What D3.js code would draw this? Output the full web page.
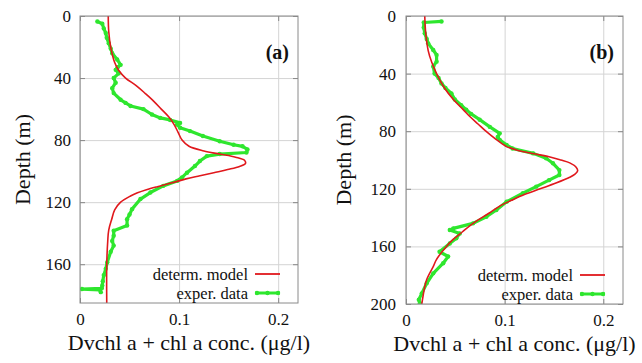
<!DOCTYPE html>
<html>
<head>
<meta charset="utf-8">
<script src="https://cdn.jsdelivr.net/npm/d3@7"></script>
<style>
  html, body { margin: 0; padding: 0; background: #fff; }
  svg text { font-family: "Liberation Serif", "Times New Roman", Times, "DejaVu Serif", serif !important; }
</style>
</head>
<body>
<div id="chart"></div>
<script>
// ---- data ----
// panel (a)
const depthModelA = [0, 10, 20, 30, 35, 40, 45, 50, 55, 60, 65, 70, 75, 80, 84, 87, 89, 91, 93, 95, 97, 99, 101, 103, 105, 107.5, 110, 112, 114, 116, 120, 125, 131, 138, 145, 160, 185];
const concModelA = [0.0285, 0.029, 0.031, 0.035, 0.039, 0.046, 0.057, 0.066, 0.0745, 0.082, 0.0895, 0.095, 0.099, 0.103, 0.110, 0.125, 0.141, 0.157, 0.166, 0.167, 0.161, 0.149, 0.135, 0.121, 0.107, 0.093, 0.078, 0.067, 0.058, 0.051, 0.041, 0.035, 0.032, 0.029, 0.028, 0.027, 0.027];
const depthExpA = [3.5, 5, 8, 11, 14, 17.5, 21, 24, 28, 31.5, 33, 34.7, 37, 40, 43, 46.5, 49.7, 54, 56, 58, 60, 63.5, 65.7, 67, 68.9, 70, 72, 74.2, 77.4, 80.7, 83, 84, 86, 88, 89, 90.3, 93.5, 96.7, 101, 104, 106.3, 109.5, 113.8, 118, 124.5, 128, 131, 135, 138.4, 141.6, 145, 148, 152, 158.7, 163, 167, 171, 173.7, 175.5, 176, 176.5, 178];
const concExpA = [0.0175, 0.0225, 0.024, 0.026, 0.027, 0.029, 0.031, 0.0325, 0.0375, 0.041, 0.038, 0.036, 0.039, 0.034, 0.036, 0.0325, 0.034, 0.041, 0.046, 0.051, 0.064, 0.0726, 0.081, 0.091, 0.101, 0.098, 0.101, 0.111, 0.124, 0.141, 0.155, 0.164, 0.169, 0.168, 0.141, 0.128, 0.121, 0.116, 0.108, 0.103, 0.098, 0.084, 0.071, 0.061, 0.0525, 0.050, 0.0475, 0.0475, 0.034, 0.034, 0.0325, 0.034, 0.031, 0.0275, 0.026, 0.024, 0.023, 0.0225, 0.022, 0.002, 0.020, 0.021];

// panel (b)
const depthModelB = [0, 12, 24, 32, 40, 50, 58, 65, 70, 75, 80, 85, 90.7, 93, 95.5, 97.7, 100, 102, 105, 107.5, 110, 112, 116, 120, 124, 128, 132, 137, 144, 150, 155, 160, 169, 174, 183, 188, 200];
const concModelB = [0.019, 0.020, 0.0225, 0.026, 0.031, 0.039, 0.048, 0.058, 0.065, 0.073, 0.081, 0.090, 0.102, 0.112, 0.128, 0.145, 0.157, 0.166, 0.1725, 0.174, 0.171, 0.166, 0.152, 0.136, 0.120, 0.107, 0.095, 0.084, 0.068, 0.057, 0.048, 0.041, 0.031, 0.0276, 0.021, 0.019, 0.016];
const depthExpB = [3.8, 4.5, 8, 12, 16, 19, 23.6, 27, 31.7, 35, 40, 43, 46.8, 50, 53.7, 58, 62, 65, 68, 72, 77, 81.5, 84, 86, 89.6, 92, 95.4, 98.8, 102.3, 107, 110.4, 114, 118.5, 123, 129, 134.7, 139.4, 144, 147.5, 148.6, 151, 154.4, 158, 163.7, 167, 171.7, 178.7, 185.6, 192.6, 197, 199.5];
const concExpB = [0.036, 0.018, 0.018, 0.019, 0.021, 0.0225, 0.0276, 0.031, 0.031, 0.0276, 0.029, 0.033, 0.036, 0.040, 0.046, 0.0495, 0.056, 0.061, 0.066, 0.0747, 0.085, 0.095, 0.093, 0.095, 0.102, 0.108, 0.129, 0.142, 0.149, 0.1555, 0.1555, 0.145, 0.132, 0.1185, 0.102, 0.0916, 0.0815, 0.068, 0.048, 0.0444, 0.0545, 0.051, 0.0444, 0.034, 0.0427, 0.0377, 0.0276, 0.021, 0.016, 0.013, 0.014];

// ticks
const concTicks = [0, 0.1, 0.2];
const concTickLabels = ["0", "0.1", "0.2"];
const depthTicksA = [0, 40, 80, 120, 160];
const depthTicksB = [0, 40, 80, 120, 160, 200];
const seriesNames = ["determ. model", "exper. data"];

const W = 642, H = 363;
const RED = "#e0181c";
const GREEN = "#2ee62e";
const SERIF = "'Liberation Serif', 'Times New Roman', Times, 'DejaVu Serif', serif";

const svg = d3.select("#chart").append("svg")
  .attr("width", W)
  .attr("height", H)
  .attr("font-family", SERIF);

svg.append("rect").attr("width", W).attr("height", H).attr("fill", "#fff");

function drawPanel(cfg) {
  const w = cfg.width, h = cfg.height;
  const g = svg.append("g").attr("transform", `translate(${cfg.left},${cfg.top})`);

  const x = d3.scaleLinear().domain([0, 0.22]).range([0, w]);
  const y = d3.scaleLinear().domain([0, cfg.maxDepth]).range([0, h]);

  // grid + tick labels
  const yAxis = g.append("g")
    .call(d3.axisLeft(y).tickValues(cfg.depthTicks).tickSize(-w).tickPadding(cfg.yPad).tickFormat(d3.format("d")));
  const xAxis = g.append("g")
    .attr("transform", `translate(0,${h})`)
    .call(d3.axisBottom(x).tickValues(concTicks).tickSize(-h).tickPadding(10).tickFormat((d, i) => concTickLabels[i]));

  [xAxis, yAxis].forEach(a => {
    a.attr("font-family", SERIF).attr("font-size", 17);
    a.select(".domain").remove();
    a.selectAll("line").attr("stroke", "#d4d4d4").attr("stroke-width", 1);
    a.selectAll("text").attr("fill", "#111");
  });

  // small inward ticks on all sides (no labels)
  const tickLen = 5;
  const tickGroups = [
    g.append("g").call(d3.axisLeft(y).tickValues(cfg.depthTicks).tickSize(-tickLen)),
    g.append("g").attr("transform", `translate(${w},0)`).call(d3.axisRight(y).tickValues(cfg.depthTicks).tickSize(-tickLen)),
    g.append("g").attr("transform", `translate(0,${h})`).call(d3.axisBottom(x).tickValues(concTicks).tickSize(-tickLen)),
    g.append("g").call(d3.axisTop(x).tickValues(concTicks).tickSize(-tickLen))
  ];
  tickGroups.forEach(t => {
    t.select(".domain").remove();
    t.selectAll("text").remove();
    t.selectAll("line").attr("stroke", "#888");
  });

  // clip for the curves
  const clipId = "clip-" + cfg.tag;
  g.append("clipPath").attr("id", clipId)
    .append("rect").attr("width", w).attr("height", h);

  const plot = g.append("g").attr("clip-path", `url(#${clipId})`);

  const modelLine = d3.line()
    .x(d => x(d[1]))
    .y(d => y(d[0]))
    .curve(d3.curveCatmullRom.alpha(0.5));

  const expLine = d3.line()
    .x(d => x(d[1]))
    .y(d => y(d[0]));

  const modelPts = cfg.depthModel.map((d, i) => [d, cfg.concModel[i]]);
  const expPts = cfg.depthExp.map((d, i) => [d, cfg.concExp[i]]);

  plot.append("path")
    .datum(expPts)
    .attr("fill", "none")
    .attr("stroke", GREEN)
    .attr("stroke-width", 3.2)
    .attr("stroke-linejoin", "round")
    .attr("d", expLine);

  plot.selectAll(".pt")
    .data(expPts)
    .enter()
    .append("circle")
    .attr("class", "pt")
    .attr("cx", d => x(d[1]))
    .attr("cy", d => y(d[0]))
    .attr("r", 2.2)
    .attr("fill", GREEN);

  plot.append("path")
    .datum(modelPts)
    .attr("fill", "none")
    .attr("stroke", RED)
    .attr("stroke-width", 1.6)
    .attr("d", modelLine);

  // frame
  g.append("rect")
    .attr("width", w)
    .attr("height", h)
    .attr("fill", "none")
    .attr("stroke", "#8a8a8a")
    .attr("stroke-width", 1);

  // panel tag
  g.append("text")
    .attr("x", w - 9)
    .attr("y", cfg.tagY)
    .attr("text-anchor", "end")
    .attr("font-size", 20)
    .attr("font-weight", "bold")
    .attr("fill", "#111")
    .text(`(${cfg.tag})`);

  // legend
  const legendRows = [h - 29, h - 10];
  seriesNames.forEach((name, i) => {
    g.append("text")
      .attr("x", w - 50)
      .attr("y", legendRows[i])
      .attr("dy", "0.35em")
      .attr("text-anchor", "end")
      .attr("font-size", 16.5)
      .attr("fill", "#111")
      .text(name);
  });
  g.append("line")
    .attr("x1", w - 43).attr("x2", w - 18)
    .attr("y1", legendRows[0]).attr("y2", legendRows[0])
    .attr("stroke", RED).attr("stroke-width", 1.8);
  g.append("line")
    .attr("x1", w - 43).attr("x2", w - 18)
    .attr("y1", legendRows[1]).attr("y2", legendRows[1])
    .attr("stroke", GREEN).attr("stroke-width", 3);
  [w - 41, w - 30.5, w - 20].forEach(cx => {
    g.append("circle").attr("cx", cx).attr("cy", legendRows[1]).attr("r", 2.2).attr("fill", GREEN);
  });

  // axis titles
  g.append("text")
    .attr("transform", `translate(${-cfg.labelOffset},${h / 2}) rotate(-90)`)
    .attr("text-anchor", "middle")
    .attr("dy", "0.35em")
    .attr("font-size", 22)
    .attr("fill", "#111")
    .text("Depth (m)");

  g.append("text")
    .attr("x", w / 2)
    .attr("y", h + 47)
    .attr("text-anchor", "middle")
    .attr("font-size", 22)
    .attr("fill", "#111")
    .text("Dvchl a + chl a conc. (\u03bcg/l)");
}

drawPanel({
  tag: "a", left: 80, top: 16, width: 218, height: 287, maxDepth: 185,
  depthTicks: depthTicksA, yPad: 9, labelOffset: 58, tagY: 43,
  depthModel: depthModelA, concModel: concModelA,
  depthExp: depthExpA, concExp: concExpA
});

drawPanel({
  tag: "b", left: 406, top: 16, width: 217, height: 288, maxDepth: 200,
  depthTicks: depthTicksB, yPad: 10, labelOffset: 63, tagY: 43,
  depthModel: depthModelB, concModel: concModelB,
  depthExp: depthExpB, concExp: concExpB
});
</script>
</body>
</html>
